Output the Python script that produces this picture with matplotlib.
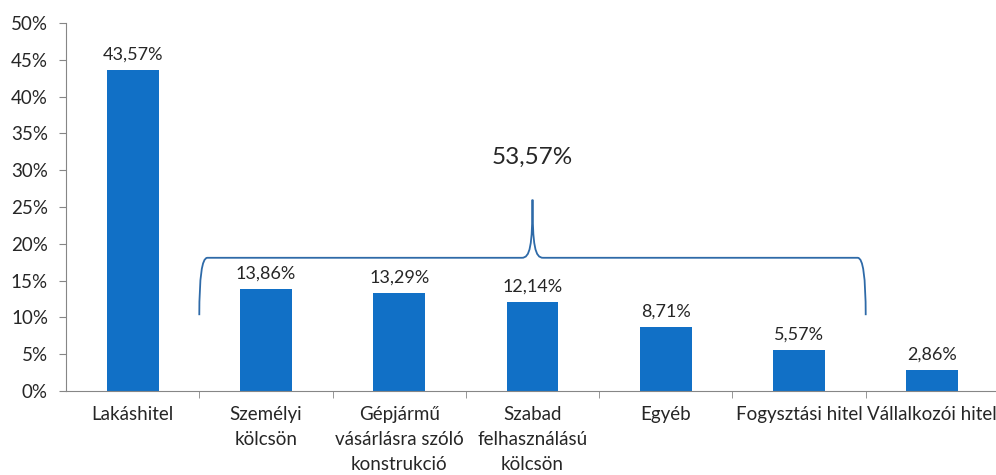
import matplotlib
matplotlib.use('Agg')
import matplotlib.pyplot as plt
from matplotlib.path import Path
from matplotlib.patches import PathPatch

plt.rcParams['font.family'] = ['Lato', 'DejaVu Sans']

# data
categories = ['Lakáshitel', 'Személyi\nkölcsön', 'Gépjármű\nvásárlásra szóló\nkonstrukció',
              'Szabad\nfelhasználású\nkölcsön', 'Egyéb', 'Fogysztási hitel', 'Vállalkozói hitel']
values = [43.57, 13.86, 13.29, 12.14, 8.71, 5.57, 2.86]
brace_total = 53.57

bar_color = '#1170c6'
axis_color = '#868686'
text_color = '#262626'

fig = plt.figure(figsize=(9.96, 4.75), dpi=100)
ax = fig.add_axes([66/996, 84/475, 933/996, 368/475])

x = list(range(len(values)))
ax.bar(x, values, width=0.39, color=bar_color, zorder=2)

for xi, v in zip(x, values):
    ax.text(xi, v + 1.0, '{:.2f}%'.format(v).replace('.', ','), ha='center', va='bottom',
            fontsize=13, color=text_color)

ax.set_xlim(-0.5, len(values) - 0.5)
ax.set_ylim(0, 50)
ax.set_yticks(range(0, 51, 5))
ax.set_yticklabels(['{}%'.format(t) for t in range(0, 51, 5)], fontsize=13.5, color=text_color)
ax.set_xticks(x)
ax.set_xticklabels(categories, fontsize=13.5, color=text_color, linespacing=1.55, va='top')
ax.set_xticks([i + 0.5 for i in range(len(values) - 1)], minor=True)
ax.tick_params(axis='x', which='major', length=0, pad=11)
ax.tick_params(axis='x', which='minor', length=5, color=axis_color, direction='out')
ax.tick_params(axis='y', length=5, color=axis_color, pad=8)

for s in ['top', 'right']:
    ax.spines[s].set_visible(False)
for s in ['left', 'bottom']:
    ax.spines[s].set_color(axis_color)

# curly brace over the middle categories
yb, yl, yp = 18.1, 10.3, 26.0
xl, xm, xr = 0.5, 3.0, 5.5
verts = [(xl, yl), (xl, yb), (xl + 0.06, yb),
         (xm - 0.08, yb),
         (xm - 0.02, yb), (xm, yb + 1.5), (xm, yp),
         (xm, yb + 1.5), (xm + 0.02, yb), (xm + 0.08, yb),
         (xr - 0.06, yb),
         (xr, yb), (xr, yl)]
codes = [Path.MOVETO, Path.CURVE3, Path.CURVE3,
         Path.LINETO,
         Path.CURVE4, Path.CURVE4, Path.CURVE4,
         Path.CURVE4, Path.CURVE4, Path.CURVE4,
         Path.LINETO,
         Path.CURVE3, Path.CURVE3]
ax.add_patch(PathPatch(Path(verts, codes), facecolor='none', edgecolor='#2e6aa8',
                       lw=1.3, zorder=3, clip_on=False))
ax.text(xm, 31.8, '{:.2f}%'.format(brace_total).replace('.', ','), ha='center', va='center',
        fontsize=17.5, color=text_color)

plt.savefig('out.png', dpi=100)
